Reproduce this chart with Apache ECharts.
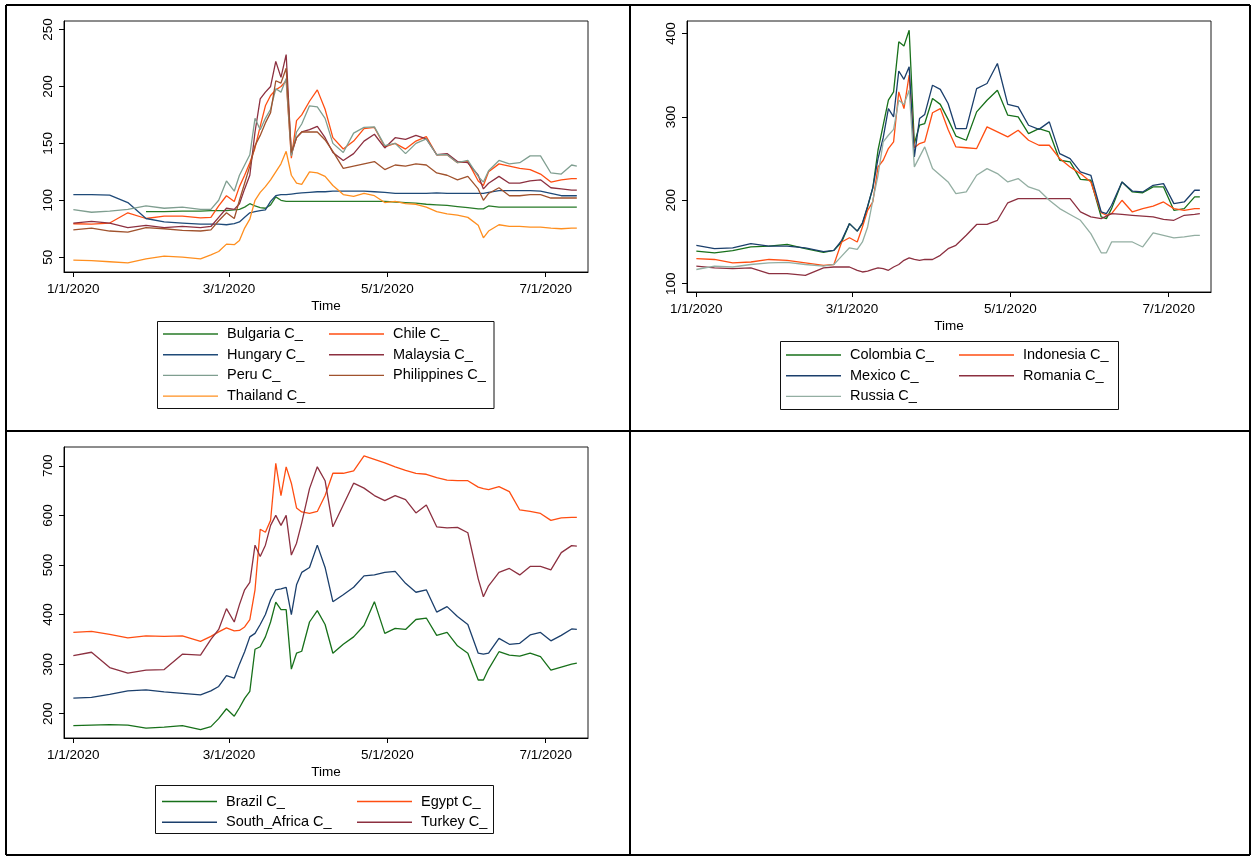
<!DOCTYPE html>
<html>
<head>
<meta charset="utf-8">
<script src="https://cdn.jsdelivr.net/npm/echarts@6/dist/echarts.min.js"></script>
<style>
  html, body { margin: 0; padding: 0; background: #fff; }
  #chart { width: 1252px; height: 857px; }
</style>
</head>
<body>
<div id="chart"></div>
<script>
// Observation days, counted from 1 Jan 2020
const days = [0,7,14,21,28,35,42,49,53,56,59,62,64,66,68,70,72,74,76,78,80,82,84,86,88,91,94,97,
  100,104,108,112,116,120,124,128,132,136,140,144,148,152,156,158,160,164,168,172,176,180,184,188,192,194];

const xTickLabels = ['1/1/2020', '3/1/2020', '5/1/2020', '7/1/2020'];

// Group 1
const bulgaria = [null,null,null,null,90,90,90.5,90.5,91,91,91,91.5,92,94,97,95,93.5,93,96,103,100,99,99,99,99,99,99,99,
  99,99,99,99,99,99,98.5,98,97.5,96.5,96,95.5,94.5,93.5,92.5,92.5,95,94,94,94,94,94,94,94,94,94];
const chile = [79.4,79,80,89,84,86,86,84.5,85,95,104,99,112,122,133,146,165,183,192,197,200,205,137,170,175,187,197,180,
  155,145,152,163,164,147,150,145,152,156,140,140,133,134,117,113,125,132,130,128,127,123,116,118,119,119];
const hungary = [105,105,104.5,98,84,81,80,79,79,79,78.5,79.5,81,85,89,90,91,91.5,99,104,105,105,105.5,106,106.5,107,107.5,107.5,
  108,108,108,108,107.5,107,106,106,106,106,106.5,106,106,106,106,106,107,108.5,108.5,108.5,108.5,108,106,104,104,104];
const malaysia = [80,81.5,80,76,78,76,77,76,77,85,93,92,97,110,122,160,189,195,200,222,208,228,140,155,160,162,165,155,
  142,135,141,152,158,146,155,153.5,157,154,140,141,134,133,122,110,115,121,115,115,117,118,111,110,109,109];
const peru = [91.8,89.5,90.5,92,95,93,94,92,92,100,117,108,122,131,140,172,162,172,180,198,195,207,139,160,167,183,182,172,
  150,142,159,164,164.5,148,150,141,150,154,140,140,133,135,121,116,126,135,132,133,139,139,124,123,131,130];
const philippines = [74,75.5,73,72,76,75,73.5,73,74,82,89,84,100,115,130,148,157,168,177,205,203,216,142,155,160,160,160,153,
  143,128,130,132,134,127,131,130,132,131,124,122,118,121,110,100,106,111,104,104,105,105,102,102,102,102];
const thailand = [47.5,47,46,45,48.5,51,50,48.5,52,55,61.5,61,64.7,75.6,83.5,100,107,112,118,125,132,143,122,115,114,125,124,121,
  113,105,103.5,106,104,98,99,97,96.5,94,90,88,87,85,78,67,73,78.5,77,77,76.5,76.5,75.5,75,75.5,75.5];

// Group 2
const colombia = [139,137,139.5,144,145,147,142,137.5,140,150,172,163,172,192,215,260,290,320,330,390,385,404,268,290,292,322,315,297,
  277,272,306,320,332,302,300,280,286,282,248,246,225,224,180,178,190,222,210,209,216,216,188,190,204,204];
const indonesia = [130,129,125,126,129,128,125,122,123,150,155,150,168,188,198,240,248,262,270,330,310,350,263,268,270,305,310,285,
  264,263,262,288,282,276,284,272,266,266,250,240,232,222,185,182,184,200,186,190,193,198,190,188,190,190];
const mexico = [146,142,143,148,145,145,143,138.5,140,152,172,163,173,193,215,250,275,310,300,355,345,360,252,298,303,338,333,316,
  286,286,334,340,364,315,312,290,285,294,256,250,234,230,186,184,194,222,211,210,218,220,196,198,212,212];
const romania = [121,119,118,119,112,112,110,119,120,120,120,116,114,115,117,119,118,116,120,123,128,131,129,128,129,129,134,142,
  146,158,171,171,176,197,202,202,202,202,202,202,186,180,178,181,184,183,182,181,180,177,176,182,183,184];
const russia = [117,121,120,123,125,125.5,123,121,123,133,143,141,150,168,200,230,270,278,285,320,315,332,240,252,264,238,230,222,
  208,210,230,238,232,222,226,216,212,200,190,183,176,160,137,137,150,150,150,144,161,158,155,156,158,158];

// Group 3
const brazil = [176,177,178,177,171,173,176,168,174,190,210,195,212,231,245,330,335,355,385,425,410,410,290,322,326,385,408,380,
  322,340,355,378,426,362,372,370,390,393,358,364,337,322,268,268,290,325,318,316,322,315,288,294,300,302];
const egypt = [364,366,360,353,357,356,357,346,356,365,373,367,368,375,390,450,572,566,590,705,640,698,665,615,607,604,608,640,
  685,685,690,720,713,706,698,691,685,683,676,671,670,670,657,654,652,658,648,611,608,604,590,595,596,596];
const southAfrica = [231.5,233,239,246,248,244,241,238,246,255,277,272,300,325,355,362,380,400,430,450,452,455,400,460,485,495,540,495,
  426,440,455,478,480,485,487,463,445,450,405,416,396,380,322,320,322,352,340,342,359,364,347,358,371,370];
const turkey = [317,324,293,282,288,289,320,318,350,370,412,385,420,450,465,540,517,540,580,600,580,600,520,544,585,654,698,670,
  577,621,665,655,640,630,640,632,605,621,577,575,576,565,472,436,458,485,493,480,497,497,490,525,539,538];

const yTicks1 = [50, 100, 150, 200, 250];
const yTicks2 = [100, 200, 300, 400];
const yTicks3 = [200, 300, 400, 500, 600, 700];

const C = {
  green: '#277a27', orangeRed: '#ff4e12', navy: '#1f4a78', maroon: '#8c3040',
  grayGreen: '#7f9e90', sienna: '#a0522d', orange: '#ff8f1f',
  darkGreen: '#17701a', navy2: '#1b3f6c', lightGray: '#93aea2'
};

function dayOf(label) {
  const p = label.split('/').map(Number);
  return Math.round((Date.UTC(p[2], p[0] - 1, p[1]) - Date.UTC(p[2], 0, 1)) / 86400000);
}
const xTickDays = xTickLabels.map(dayOf);

const FONT = 'Liberation Sans, Arial, sans-serif';
const FS = 13.5;

const panels = [
  {
    grid: { left: 64, top: 21, width: 524, height: 251 },
    y: [37, 257.5], yTicks: yTicks1,
    series: [
      ['Bulgaria C_', bulgaria, C.green],
      ['Chile C_', chile, C.orangeRed],
      ['Hungary C_', hungary, C.navy],
      ['Malaysia C_', malaysia, C.maroon],
      ['Peru C_', peru, C.grayGreen],
      ['Philippines C_', philippines, C.sienna],
      ['Thailand C_', thailand, C.orange]
    ],
    cols: [['Bulgaria C_', 'Hungary C_', 'Peru C_', 'Thailand C_'], ['Chile C_', 'Malaysia C_', 'Philippines C_']],
    colX: [163, 329], legTop: 326,
    box: [157.5, 321.5, 336.5, 87]
  },
  {
    grid: { left: 687, top: 21, width: 524, height: 271 },
    y: [90, 415], yTicks: yTicks2,
    series: [
      ['Colombia C_', colombia, C.darkGreen],
      ['Indonesia C_', indonesia, C.orangeRed],
      ['Mexico C_', mexico, C.navy2],
      ['Romania C_', romania, C.maroon],
      ['Russia C_', russia, C.lightGray]
    ],
    cols: [['Colombia C_', 'Mexico C_', 'Russia C_'], ['Indonesia C_', 'Romania C_']],
    colX: [786, 959], legTop: 347,
    box: [780.5, 341.5, 338, 68]
  },
  {
    grid: { left: 64, top: 447, width: 524, height: 291 },
    y: [151, 738], yTicks: yTicks3,
    series: [
      ['Brazil C_', brazil, C.darkGreen],
      ['Egypt C_', egypt, C.orangeRed],
      ['South_Africa C_', southAfrica, C.navy2],
      ['Turkey C_', turkey, C.maroon]
    ],
    cols: [['Brazil C_', 'South_Africa C_'], ['Egypt C_', 'Turkey C_']],
    colX: [162, 357], legTop: 793.5,
    box: [155.5, 785.5, 338, 48]
  }
];

const option = {
  animation: false,
  backgroundColor: '#ffffff',
  textStyle: { fontFamily: FONT },
  grid: [], xAxis: [], yAxis: [], series: [], legend: [], graphic: []
};

panels.forEach((p, i) => {
  option.grid.push(Object.assign({ show: true, borderColor: '#1a1a1a', borderWidth: 1, backgroundColor: '#fff' }, p.grid));
  option.xAxis.push({
    type: 'value', gridIndex: i, min: -3.6, max: 198.3,
    name: 'Time', nameLocation: 'middle', nameGap: 27,
    nameTextStyle: { color: '#000', fontSize: FS, fontFamily: FONT },
    splitLine: { show: false },
    axisLine: { show: true, onZero: false, lineStyle: { color: '#000', width: 1 } },
    axisTick: { show: true, length: 5, lineStyle: { color: '#000' }, customValues: xTickDays },
    axisLabel: {
      color: '#000', fontSize: FS, fontFamily: FONT, margin: 10,
      customValues: xTickDays,
      formatter: v => xTickLabels[xTickDays.indexOf(Math.round(v))] || ''
    }
  });
  option.yAxis.push({
    type: 'value', gridIndex: i, min: p.y[0], max: p.y[1],
    splitLine: { show: false },
    axisLine: { show: true, onZero: false, lineStyle: { color: '#000', width: 1 } },
    axisTick: { show: true, length: 5, lineStyle: { color: '#000' }, customValues: p.yTicks },
    axisLabel: { color: '#000', fontSize: FS, fontFamily: FONT, rotate: 90, margin: 9, customValues: p.yTicks }
  });
  p.series.forEach(s => {
    option.series.push({
      type: 'line', name: s[0], xAxisIndex: i, yAxisIndex: i,
      data: days.map((d, k) => [d, s[1][k]]),
      showSymbol: false, symbol: 'none', connectNulls: false,
      color: s[2], lineStyle: { color: s[2], width: 1.3 },
      emphasis: { disabled: true }
    });
  });
  p.cols.forEach((names, c) => {
    option.legend.push({
      orient: 'vertical', left: p.colX[c], top: p.legTop,
      data: names, selectedMode: false,
      icon: 'rect', itemWidth: 55, itemHeight: 1.4, itemGap: 4.7,
      padding: 0,
      textStyle: { color: '#000', fontSize: 14.5, fontFamily: FONT, lineHeight: 16, padding: [0, 0, 0, 4] }
    });
  });
  option.graphic.push({
    type: 'rect', silent: true, z: 0,
    shape: { x: p.box[0], y: p.box[1], width: p.box[2], height: p.box[3] },
    style: { fill: 'none', stroke: '#111', lineWidth: 1 }
  });
});

// Outer frame and panel dividers
const frame = [
  [6, 5, 1250, 5], [6, 855, 1250, 855], [6, 5, 6, 855], [1250, 5, 1250, 855],
  [630, 5, 630, 855], [6, 431, 1250, 431]
];
frame.forEach(l => option.graphic.push({
  type: 'line', silent: true, z: 10,
  shape: { x1: l[0], y1: l[1], x2: l[2], y2: l[3] },
  style: { stroke: '#000', lineWidth: 2 }
}));

// Figure heading (sits above the top edge)
option.graphic.push({
  type: 'text', silent: true, z: 10, left: 366, top: -29,
  style: { text: 'Figure 1: Emerging Markets Group 1', font: 'bold 30px "Liberation Serif", "Times New Roman", serif', fill: '#000' }
});

const chart = echarts.init(document.getElementById('chart'), null, { renderer: 'canvas' });
chart.setOption(option);
</script>
</body>
</html>
